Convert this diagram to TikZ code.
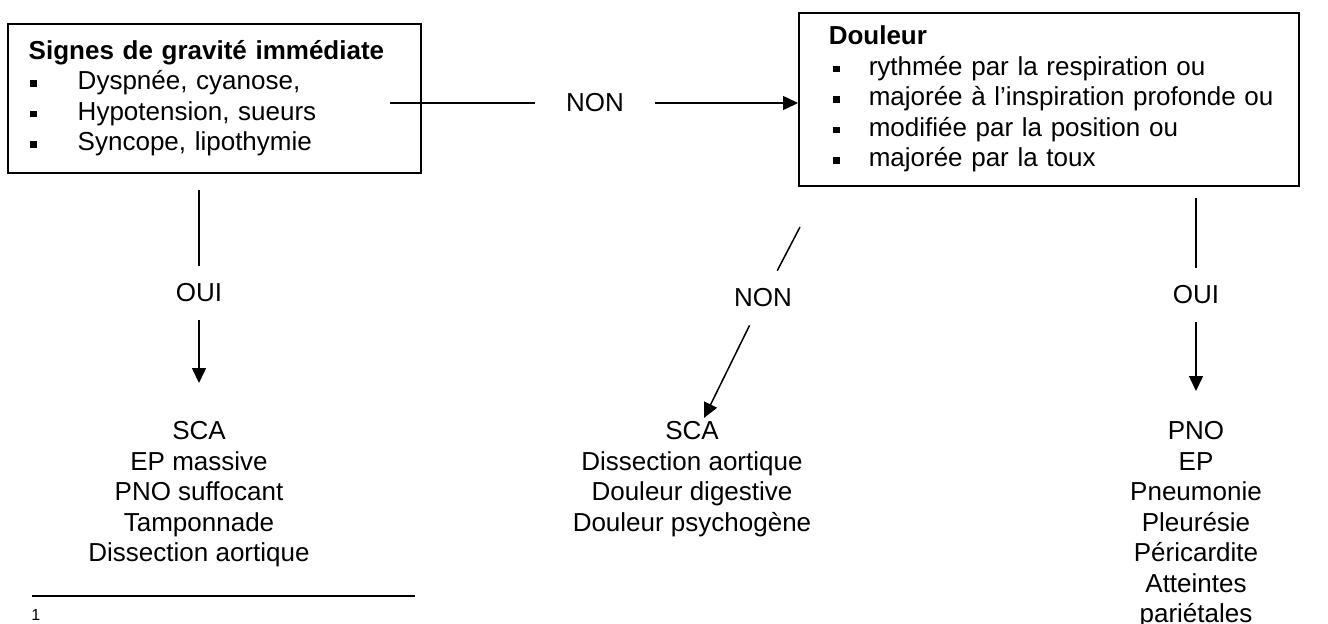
\documentclass[tikz,border=0pt]{standalone}
\usepackage{fontspec}
\setmainfont{Liberation Sans}
\usetikzlibrary{arrows.meta}
\newcommand{\puce}[3]{\mbox{\hspace*{#1}\makebox[#2][l]{\rule[1.5pt]{3.4pt}{3.4pt}}#3}}
\tikzset{
	txt/.style={font=\fontsize{13}{15.25}\selectfont},
	cadre/.style={txt,draw,line width=0.75pt,anchor=north west,align=left,inner ysep=0pt},
	lien/.style={line width=0.75pt},
	fleche/.style={line width=0.75pt,-{Triangle[length=7.5pt,width=7pt]}},
	rep/.style={txt,inner xsep=2pt,inner ysep=8.85pt},
	liste/.style={txt,align=center,anchor=north,inner sep=0pt},
	}
\begin{document}
\begin{tikzpicture}[x=0.5pt,y=-0.5pt]
\useasboundingbox (0,0) rectangle (1328,623);

\node (gravite) [cadre,minimum width=206.5pt,minimum height=74.5pt,text width=185.5pt,inner xsep=10.5pt] at (7,23)
 {\textbf{Signes de gravité immédiate}\\
  \puce{0.5pt}{24pt}{Dyspnée, cyanose,}\\
  \puce{0.5pt}{24pt}{Hypotension, sueurs}\\
  \puce{0.5pt}{24pt}{Syncope, lipothymie}};
\node (douleur) [cadre,minimum width=250pt,minimum height=86.5pt,text width=220pt,inner xsep=15pt] at (798,12)
 {\textbf{Douleur}\\
  \puce{2pt}{18pt}{rythmée par la respiration ou}\\
  \puce{2pt}{18pt}{majorée à l’inspiration profonde ou}\\
  \puce{2pt}{18pt}{modifiée par la position ou}\\
  \puce{2pt}{18pt}{majorée par la toux}\\[9pt]};

\node (non1) [rep,inner xsep=15.5pt] at (595,103) {NON};
\node (oui1) [rep] at (199,293) {OUI};
\node (non2) [rep] at (763,298) {NON};
\node (oui2) [rep] at (1196,295) {OUI};

\node (grave) [liste] at (199,421) {SCA\\EP massive\\PNO suffocant\\Tamponnade\\Dissection aortique};
\node (autre) [liste] at (692,421) {SCA\\Dissection aortique\\Douleur digestive\\Douleur psychogène};
\node (pleu) [liste] at (1196,421) {PNO\\EP\\Pneumonie\\Pleurésie\\Péricardite\\Atteintes\\pariétales};

\coordinate (g1) at (199,190);
\coordinate (g2) at (390,103);
\coordinate (d1) at (1196,198);
\coordinate (d2) at (800,227);
\coordinate (pointe) at (704,418);

\draw[lien] (g2) -- (non1);
\draw[fleche] (non1) -- (non1 -| douleur.west);
\draw[lien] (g1) -- (oui1);
\draw[fleche,shorten >=19pt] (oui1) -- (grave);
\draw[lien] (d2) -- (non2);
\draw[fleche] (non2) -- (pointe);
\draw[lien] (d1) -- (oui2);
\draw[fleche,shorten >=15pt] (oui2) -- (pleu);

% note de bas de page
\draw[line width=0.65pt] (32,596) -- (415,596);
\node (note) [anchor=north west,inner sep=0pt,font=\fontsize{8}{9}\selectfont] at (31,609) {1};
\end{tikzpicture}
\end{document}
